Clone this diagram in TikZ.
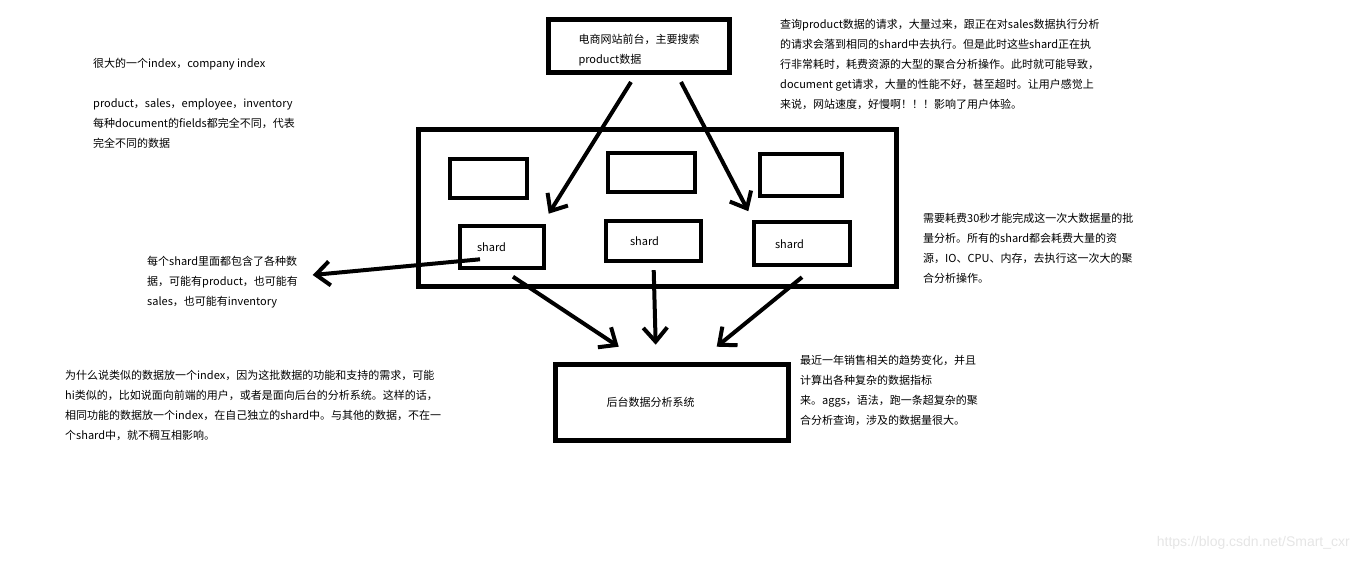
\documentclass[tikz,border=0pt]{standalone}
\usepackage{fontspec}
\setmainfont{Noto Sans CJK SC}
\newfontfamily\wmfont{Liberation Sans}
\usetikzlibrary{arrows.meta}

\begin{document}
\begin{tikzpicture}[
    x=1pt, y=-1pt,
    font=\fontsize{11}{20}\selectfont,
    box/.style={draw, line width=5pt, inner sep=0pt},
    slot/.style={draw, line width=4pt, inner sep=0pt},
    shardbox/.style={slot, align=left, minimum height=42pt},
    note/.style={anchor=north west, align=left, inner sep=0pt},
    flow/.style={-{Straight Barb[length=14pt,width=24pt]}, line width=4pt}]
  \useasboundingbox (0,0) rectangle (1360,561);
  \node[box, align=left, minimum width=181pt, minimum height=53pt] (front) at (639,46)
       {\rule{0pt}{17.5pt}电商网站前台，主要搜索\\product数据};
  \node[box, minimum width=478pt, minimum height=157pt] (cluster) at (657.5,208.3) {};
  \node[slot, minimum width=77pt, minimum height=39pt] (emptyA) at (488.5,178.5) {};
  \node[slot, minimum width=87pt, minimum height=39pt] (emptyB) at (651.2,172.3) {};
  \node[slot, minimum width=82pt, minimum height=42pt] (emptyC) at (801.3,175.5) {};
  \node[shardbox, inner xsep=16.7pt, text width=50pt] (shardA) at (502,246.7) {shard};
  \node[shardbox, inner xsep=24pt, text width=47.3pt, minimum height=40pt] (shardB) at (653.7,241.2) {shard};
  \node[shardbox, inner xsep=20.7pt, text width=54pt, minimum height=43pt] (shardC) at (802,243.7) {shard};
  \node[box, align=left, inner xsep=51.5pt, text width=130pt, minimum height=76.6pt] (backend) at (671.7,402.5)
       {后台数据分析系统};
  \coordinate (shardTip) at (312.7,275);

  \node[note] (noteIndex) at (93,58.5)
       {很大的一个index，company index\\[20pt]
        product，sales，employee，inventory\\
        每种document的fields都完全不同，代表\\
        完全不同的数据};
  \node[note] (noteQuery) at (780,19.5)
       {查询product数据的请求，大量过来，跟正在对sales数据执行分析\\
        的请求会落到相同的shard中去执行。但是此时这些shard正在执\\
        行非常耗时，耗费资源的大型的聚合分析操作。此时就可能导致，\\
        document get请求，大量的性能不好，甚至超时。让用户感觉上\\
        来说，网站速度，好慢啊！！！影响了用户体验。};
  \node[note] (noteBatch) at (923,213)
       {需要耗费30秒才能完成这一次大数据量的批\\
        量分析。所有的shard都会耗费大量的资\\
        源，IO、CPU、内存，去执行这一次大的聚\\
        合分析操作。};
  \node[note] (noteShard) at (147,256)
       {每个shard里面都包含了各种数\\
        据，可能有product，也可能有\\
        sales，也可能有inventory};
  \node[note] (noteWhy) at (65,369.5)
       {为什么说类似的数据放一个index，因为这批数据的功能和支持的需求，可能\\
        hi类似的，比如说面向前端的用户，或者是面向后台的分析系统。这样的话，\\
        相同功能的数据放一个index，在自己独立的shard中。与其他的数据，不在一\\
        个shard中，就不稠互相影响。};
  \node[note] (noteAggs) at (800,354.5)
       {最近一年销售相关的趋势变化，并且\\
        计算出各种复杂的数据指标\\
        来。aggs，语法，跑一条超复杂的聚\\
        合分析查询，涉及的数据量很大。};
  \node[anchor=east, inner sep=0pt, text=black!10, font=\wmfont\fontsize{14}{14}\selectfont] (watermark)
       at (1350,543) {https://blog.csdn.net/Smart\_cxr};

  \draw[flow] ([xshift=-8pt,yshift=-7pt]front.south) -- ([xshift=3pt,yshift=10pt]shardA.north east);
  \draw[flow] ([xshift=42pt,yshift=-7pt]front.south) -- ([xshift=-4pt,yshift=9pt]shardC.north west);
  \draw[flow] ([xshift=-22pt,yshift=-12.6pt]shardA.center) -- (shardTip);
  \draw[flow] ([xshift=11pt,yshift=-7pt]shardA.south) -- ([xshift=-53pt,yshift=15pt]backend.north);
  \draw[flow] ([yshift=-7pt]shardB.south) -- ([xshift=-16pt,yshift=17pt]backend.north);
  \draw[flow] ([yshift=-10pt]shardC.south) -- ([xshift=45pt,yshift=15pt]backend.north);
\end{tikzpicture}
\end{document}
